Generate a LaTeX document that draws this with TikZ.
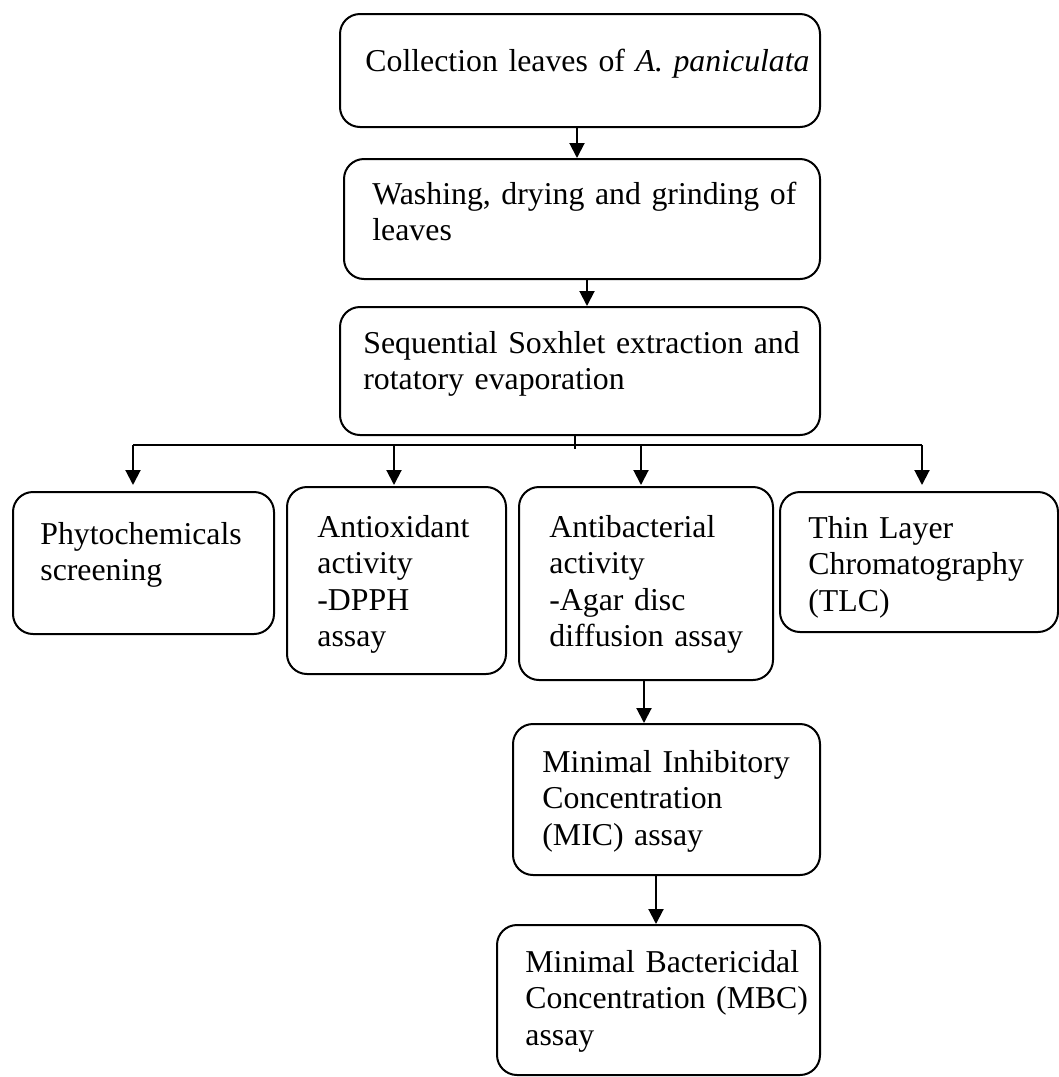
\documentclass[tikz,border=0pt]{standalone}
\usepackage{fontspec}
\setmainfont{Liberation Serif}
\usetikzlibrary{arrows.meta}
\begin{document}
\begin{tikzpicture}[x=0.5pt,y=-0.5pt,
  box/.style={draw, line width=1pt, rounded corners=10pt, inner sep=0pt},
  txt/.style={anchor=base west, inner sep=0pt, align=left, text width=#1,
    font=\fontsize{15.9}{18.3}\selectfont},
  arr/.style={line width=1pt, -{Triangle[length=7.5pt,width=7.5pt]}},
  thinline/.style={line width=0.6pt}]
\useasboundingbox (0,0) rectangle (1059,1077);

% boxes
\node[box, minimum width=240pt, minimum height=56.5pt] (b1) at (580,70.5) {};
\node[box, minimum width=238pt, minimum height=60pt] (b2) at (582,219) {};
\node[box, minimum width=240pt, minimum height=64pt] (b3) at (580,371) {};
\node[box, minimum width=130.5pt, minimum height=71pt] (b4) at (143.5,563) {};
\node[box, minimum width=109.5pt, minimum height=93.5pt] (b5) at (396.5,580.5) {};
\node[box, minimum width=127pt, minimum height=96.5pt] (b6) at (646,583.5) {};
\node[box, minimum width=139pt, minimum height=70pt] (b7) at (919,562) {};
\node[box, minimum width=153.5pt, minimum height=75.5pt] (b8) at (666.5,799.5) {};
\node[box, minimum width=161.5pt, minimum height=75pt] (b9) at (658.5,1000) {};

% texts
\node[txt=230pt] (t1) at (365,71) {Collection leaves of \textit{A. paniculata}};
\node[txt=226pt] (t2) at (372,204) {Washing, drying and grinding of\\leaves};
\node[txt=230pt] (t3) at (363,353) {Sequential Soxhlet extraction and\\rotatory evaporation};
\node[txt=118pt] (t4) at (40,544) {Phytochemicals\\screening};
\node[txt=96pt] (t5) at (317,537) {Antioxidant\\activity\\-DPPH\\assay};
\node[txt=114pt] (t6) at (549,537) {Antibacterial\\activity\\-Agar disc\\diffusion assay};
\node[txt=125pt] (t7) at (808,538) {Thin Layer\\Chromatography\\(TLC)};
\node[txt=140pt] (t8) at (542,772) {Minimal Inhibitory\\Concentration\\(MIC) assay};
\node[txt=150pt] (t9) at (525,972) {Minimal Bactericidal\\Concentration (MBC)\\assay};

% connectors
\draw[arr] ([xshift=-1.5pt]b1.south) -- ([xshift=-1.5pt]b1.south |- b2.north);
\draw[arr] ([xshift=2.5pt]b2.south) -- ([xshift=2.5pt]b2.south |- b3.north);
\draw[thinline] ([xshift=-2.5pt]b3.south) -- ++(0,13);
\coordinate (p4) at (133,445);
\coordinate (p5) at (394,445);
\coordinate (p6) at (641,445);
\coordinate (p7) at (922,445);
\draw[thinline] (p4) -- (p7);
\draw[arr, shorten >=3pt] (p4) -- (p4 |- b4.north);
\draw[arr, shorten >=0.5pt] (p5) -- (p5 |- b5.north);
\draw[arr, shorten >=0.5pt] (p6) -- (p6 |- b6.north);
\draw[arr, shorten >=3pt] (p7) -- (p7 |- b7.north);
\draw[arr] ([xshift=-1pt]b6.south) -- ([xshift=-1pt]b6.south |- b8.north);
\draw[arr] ([xshift=-5.25pt]b8.south) -- ([xshift=-5.25pt]b8.south |- b9.north);
\end{tikzpicture}
\end{document}
